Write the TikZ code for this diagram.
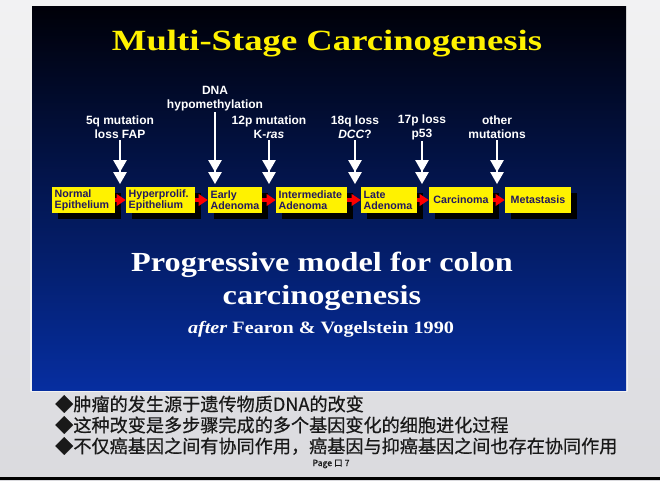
\documentclass[tikz,border=0pt]{standalone}
\usepackage{fontspec}
\setmainfont{Liberation Serif}
\setsansfont{Liberation Sans}
\newfontfamily\cjk[FakeBold=0.6]{Noto Sans CJK SC}
\usetikzlibrary{arrows.meta,shadows}
\definecolor{slidetop}{RGB}{0,0,8}
\definecolor{slidebot}{RGB}{6,46,160}
\definecolor{boxtext}{RGB}{35,25,95}
\definecolor{paper}{RGB}{242,242,243}
\definecolor{paperbot}{RGB}{218,218,222}
\begin{document}
\begin{tikzpicture}[x=.75pt,y=-.75pt, line join=round,
stage/.style={fill=yellow, text=boxtext, font=\sffamily\bfseries\fontsize{8}{8.4}\selectfont, minimum height=19.5pt, inner xsep=2pt, inner ysep=0pt, text width=#1, align=left, drop shadow={shadow xshift=4.5pt, shadow yshift=-4.5pt, fill=black, opacity=1}},
stagearrow/.style={red, line width=3pt, -{Triangle[length=6.75pt,width=8.5pt]}},
mut/.style={text=white, font=\sffamily\bfseries\fontsize{9}{10.5}\selectfont, align=center, inner sep=1pt},
mutarrow/.style={white, line width=1.1pt, shorten >=2pt, -{Triangle[width=10pt,length=9pt]Triangle[width=10pt,length=9pt]}},
big/.style={text=white, font=\bfseries\fontsize{20.7}{24}\selectfont, xscale=1.17, anchor=base},
pt/.style={anchor=west, inner sep=0pt, text=black!90, font=\cjk\fontsize{13.6}{16}\selectfont}]
\useasboundingbox (0,0) rectangle (660,480);
% nen
\shade[top color=paper, bottom color=paperbot] (0,0) rectangle (660,480);
\fill[black] (0,477) rectangle (660,480);
\draw[white!90!gray, line width=1.2pt] (31,5) rectangle (627,391);
\shade[top color=slidetop, bottom color=slidebot] (32,6) rectangle (626,390);
% tieu de
\node[text=yellow, font=\bfseries\fontsize{22}{26}\selectfont, xscale=1.25, anchor=base] (title) at (327,50) {Multi-Stage Carcinogenesis};
% cac giai doan
\node[stage=43.25pt] (ne) at (83.5,200) {Normal\\Epithelium};
\node[stage=47.75pt] (hp) at (160.5,200) {Hyperprolif.\\Epithelium};
\node[stage=36.5pt] (ea) at (235,200) {Early\\Adenoma};
\node[stage=49.25pt] (ia) at (311.5,200) {Intermediate\\Adenoma};
\node[stage=38pt] (la) at (389,200) {Late\\Adenoma};
\node[stage=44pt, align=center] (ca) at (461,200) {Carcinoma};
\node[stage=45.5pt, align=center] (me) at (538,200) {Metastasis};
\draw[stagearrow] (ne)--(hp);
\draw[stagearrow] (hp)--(ea);
\draw[stagearrow] (ea)--(ia);
\draw[stagearrow] (ia)--(la);
\draw[stagearrow] (la)--(ca);
\draw[stagearrow] (ca)--(me);
% dot bien
\node[mut] (m5q) at (120,127) {5q mutation\\loss FAP};
\node[mut] (mdna) at (215,98.5) {DNA\\hypomethylation};
\node[mut] (m12p) at (269,127) {12p mutation\\K-\textit{ras}};
\node[mut] (m18q) at (355,127) {18q loss\\\textit{DCC}?};
\node[mut] (m17p) at (422,127) {17p loss\\p53};
\node[mut] (moth) at (497,127) {other\\mutations};
\draw[mutarrow] (m5q)--(m5q |- ne.north);
\draw[mutarrow] (mdna)--(mdna |- ea.north);
\draw[mutarrow] (m12p)--(m12p |- ia.north);
\draw[mutarrow] (m18q)--(m18q |- la.north);
\draw[mutarrow] (m17p)--(m17p |- ca.north);
\draw[mutarrow] (moth)--(moth |- me.north);
% mo hinh
\node[big] (prog) at (322,271.7) {Progressive model for colon};
\node[big] (carc) at (322,304) {carcinogenesis};
\node[text=white, font=\bfseries\fontsize{13}{15}\selectfont, xscale=1.165, anchor=base] (ref) at (321,333) {\textit{after} Fearon \& Vogelstein 1990};
% chu thich
\node[pt] (p1) at (55,404) {◆肿瘤的发生源于遗传物质DNA的改变};
\node[pt] (p2) at (55,425) {◆这种改变是多步骤完成的多个基因变化的细胞进化过程};
\node[pt] (p3) at (55,446) {◆不仅癌基因之间有协同作用，癌基因与抑癌基因之间也存在协同作用};
\node[text=black!90, font=\cjk\fontsize{6.5}{8}\selectfont] (pg) at (331,464) {Page 口 7};
\end{tikzpicture}
\end{document}
